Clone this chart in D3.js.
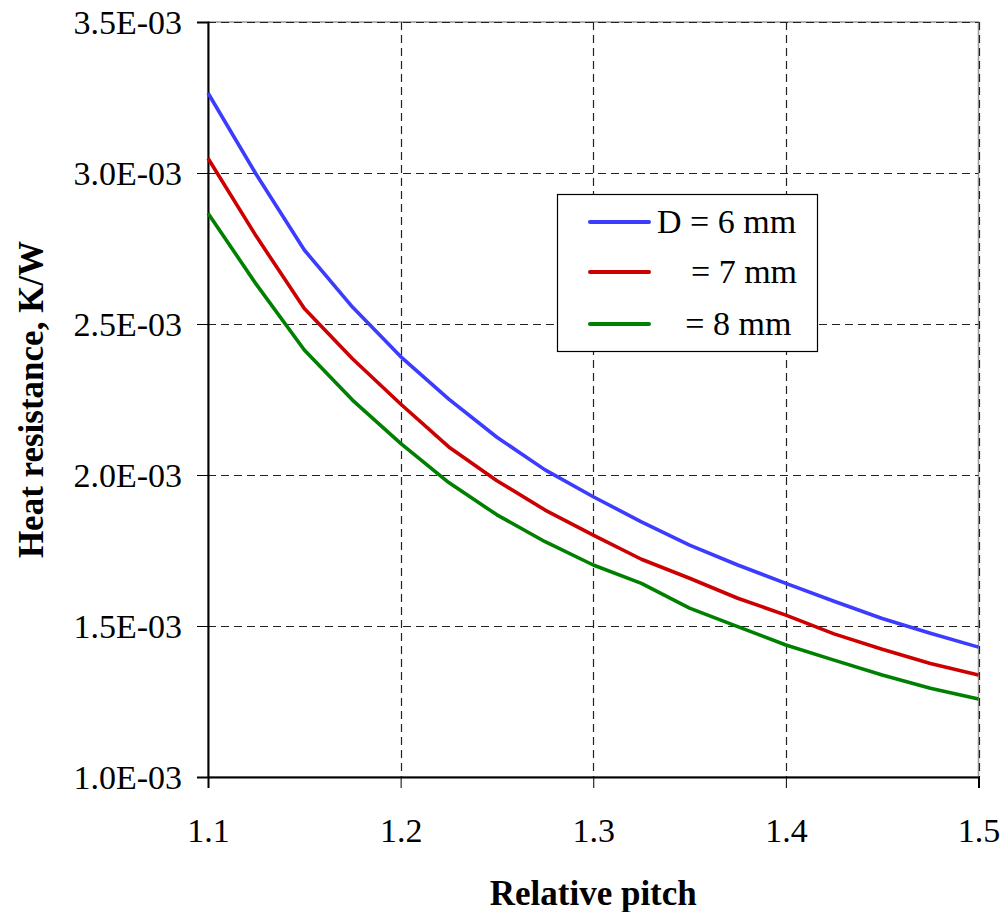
<!DOCTYPE html>
<html>
<head>
<meta charset="utf-8">
<script src="https://cdn.jsdelivr.net/npm/d3@7"></script>
<style>
  html, body { margin: 0; padding: 0; background: #fff; }
  svg { display: block; }
  svg text { font-family: "Liberation Serif", Tinos, "Times New Roman", "Nimbus Roman", "DejaVu Serif", serif !important; }
</style>
</head>
<body>
<svg id="chart" width="1003" height="912"></svg>
<script>
// ---- data ----
const pitch = [1.1, 1.125, 1.15, 1.175, 1.2, 1.225, 1.25, 1.275, 1.3, 1.325, 1.35, 1.375, 1.4, 1.425, 1.45, 1.475, 1.5];
const seriesNames = ["D = 6 mm", "\u00a0\u00a0\u00a0\u00a0= 7 mm", "\u00a0\u00a0\u00a0\u200a= 8 mm"];
const d6 = [3.265, 2.996, 2.745, 2.556, 2.392, 2.251, 2.125, 2.017, 1.928, 1.845, 1.768, 1.702, 1.641, 1.582, 1.525, 1.476, 1.430];
const d7 = [3.049, 2.791, 2.551, 2.385, 2.235, 2.093, 1.981, 1.884, 1.801, 1.721, 1.658, 1.592, 1.536, 1.474, 1.423, 1.376, 1.338];
const d8 = [2.867, 2.632, 2.414, 2.248, 2.105, 1.975, 1.868, 1.779, 1.702, 1.641, 1.559, 1.498, 1.437, 1.387, 1.338, 1.294, 1.258];
const seriesColors = ["#3c3cff", "#cc0000", "#008000"];
const xTicks = [1.1, 1.2, 1.3, 1.4, 1.5];
const yTicks = [1.0e-3, 1.5e-3, 2.0e-3, 2.5e-3, 3.0e-3, 3.5e-3];
const xTitle = "Relative pitch";
const yTitle = "Heat resistance, K/W";

const seriesValues = [d6, d7, d8];

// ---- layout ----
const svg = d3.select("#chart");
const L = 208, R = 978.5, T = 22, B = 777;
const x = d3.scaleLinear().domain([1.1, 1.5]).range([L, R]);
const y = d3.scaleLinear().domain([1.0e-3, 3.5e-3]).range([B, T]);
const fs = 34;
const fsb = 35;

// plot border (gray)
svg.append("rect").attr("x", L).attr("y", T).attr("width", R - L).attr("height", B - T)
  .attr("fill", "#fff").attr("stroke", "#999").attr("stroke-width", 1.5);

// grid
const grid = svg.append("g").attr("stroke", "#222").attr("stroke-width", 1.2).attr("stroke-dasharray", "8,5");
grid.selectAll("line.h").data(yTicks.filter(d => d > 1.0e-3)).enter().append("line")
  .attr("x1", L).attr("x2", R).attr("y1", d => Math.round(y(d)) + 0.5).attr("y2", d => Math.round(y(d)) + 0.5);
grid.selectAll("line.v").data(xTicks.filter(d => d > 1.1)).enter().append("line")
  .attr("y1", T).attr("y2", B).attr("x1", d => Math.round(x(d)) + 0.5).attr("x2", d => Math.round(x(d)) + 0.5);

// axes
const yAxis = d3.axisLeft(y).tickValues(yTicks).tickSize(11).tickPadding(15)
  .tickFormat(d => (d * 1000).toFixed(1) + "E-03");
const gy = svg.append("g").attr("transform", `translate(${L},0)`).call(yAxis);
gy.attr("font-family", null);
gy.select(".domain").attr("stroke", "#000").attr("stroke-width", 2);
gy.selectAll(".tick line").attr("stroke", "#000").attr("stroke-width", 1);
gy.selectAll(".tick text").attr("font-size", fs).attr("fill", "#000").attr("dy", "0.35em");

const xAxis = d3.axisBottom(x).tickValues(xTicks).tickSize(11).tickPadding(30)
  .tickFormat(d3.format(".1f"));
const gx = svg.append("g").attr("transform", `translate(0,${B})`).call(xAxis);
gx.attr("font-family", null);
gx.select(".domain").attr("stroke", "#000").attr("stroke-width", 2);
gx.selectAll(".tick line").attr("stroke", "#000").attr("stroke-width", 1);
gx.selectAll(".tick text").attr("font-size", fs).attr("fill", "#000");

// lines
const line = d3.line().x((d, i) => x(pitch[i])).y(d => y(d * 1e-3));
svg.append("g").selectAll("path").data(seriesValues).enter().append("path")
  .attr("d", d => line(d)).attr("fill", "none")
  .attr("stroke", (d, i) => seriesColors[i]).attr("stroke-width", 3.6)
  .attr("stroke-linejoin", "round");

// legend
const lg = svg.append("g");
lg.append("rect").attr("x", 557.5).attr("y", 194.5).attr("width", 260).attr("height", 157)
  .attr("fill", "#fff").attr("stroke", "#000").attr("stroke-width", 1.2);
const rows = [222, 272, 324];
seriesNames.forEach((name, i) => {
  lg.append("line").attr("x1", 590).attr("x2", 649).attr("y1", rows[i]).attr("y2", rows[i])
    .attr("stroke", seriesColors[i]).attr("stroke-width", 4).attr("stroke-linecap", "round");
  lg.append("text").attr("x", 657).attr("y", rows[i] + 11).attr("font-size", fs)
    .attr("fill", "#000").style("white-space", "pre").text(name);
});

// titles
svg.append("text").attr("x", (L + R) / 2).attr("y", 905).attr("text-anchor", "middle")
  .attr("font-size", fsb).attr("font-weight", "bold").text(xTitle);
svg.append("text").attr("transform", `translate(43,${(T + B) / 2}) rotate(-90)`)
  .attr("text-anchor", "middle").attr("font-size", fsb).attr("font-weight", "bold").text(yTitle);
</script>
</body>
</html>
